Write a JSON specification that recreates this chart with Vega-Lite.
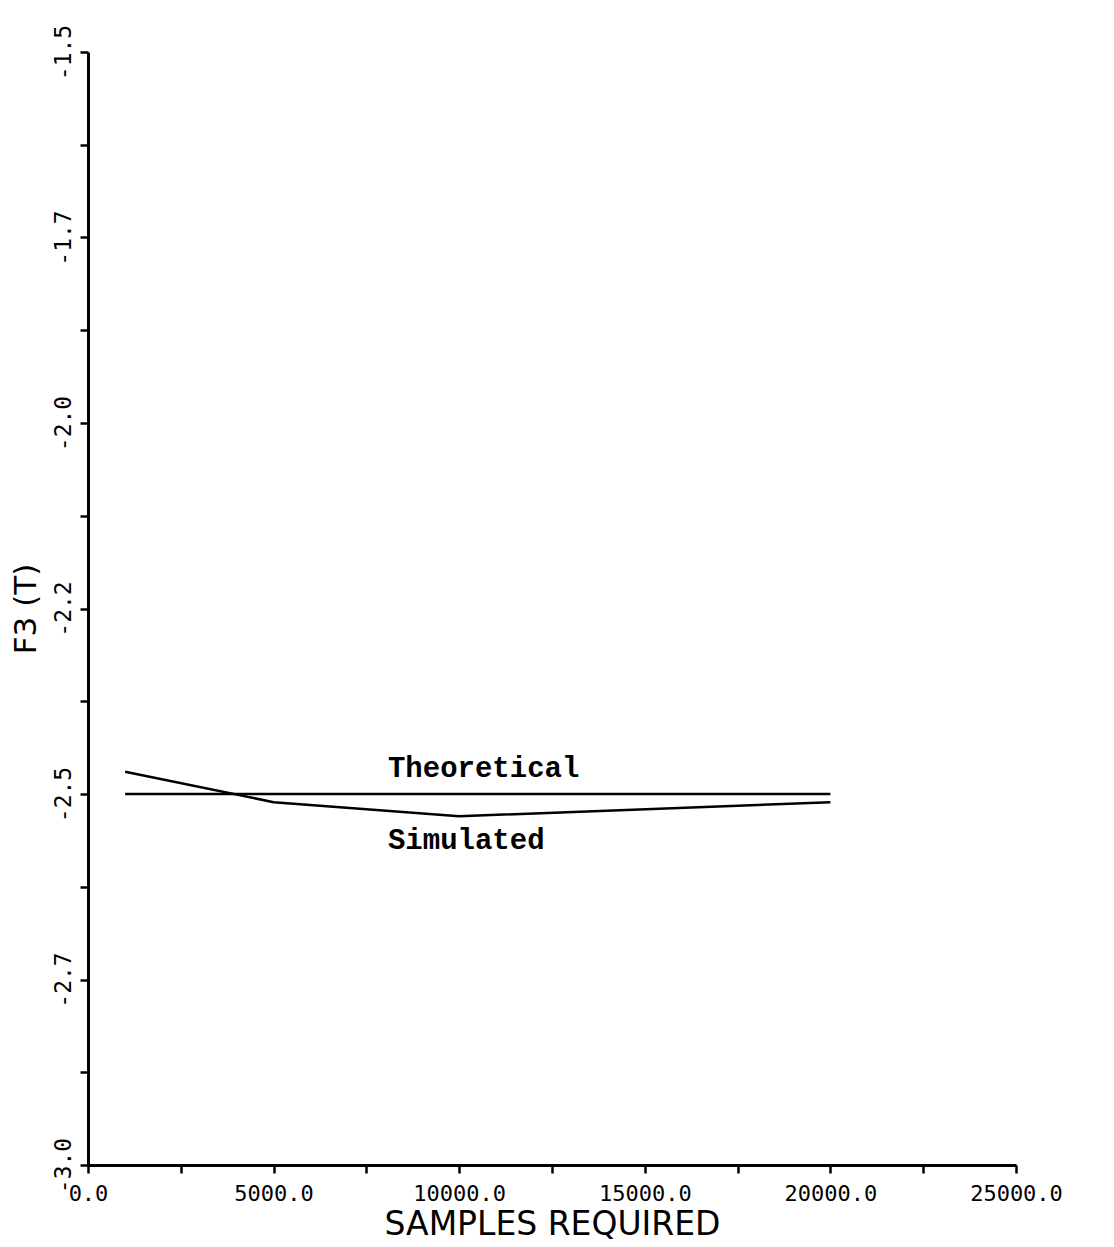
{
  "$schema": "https://vega.github.io/schema/vega-lite/v6.json",
  "autosize": {"type": "none"},
  "padding": {"left": 88, "top": 52, "right": 98, "bottom": 82},
  "width": 928,
  "height": 1113,
  "background": "white",
  "config": {"view": {"stroke": null}},
  "datasets": {
    "lines": [
      {"samples": 1000, "f3": -2.5, "series": "Theoretical"},
      {"samples": 5000, "f3": -2.5, "series": "Theoretical"},
      {"samples": 10000, "f3": -2.5, "series": "Theoretical"},
      {"samples": 20000, "f3": -2.5, "series": "Theoretical"},
      {"samples": 1000, "f3": -2.47, "series": "Simulated"},
      {"samples": 5000, "f3": -2.511, "series": "Simulated"},
      {"samples": 10000, "f3": -2.53, "series": "Simulated"},
      {"samples": 20000, "f3": -2.511, "series": "Simulated"}
    ],
    "labels": [
      {"samples": 8080, "f3": -2.465, "text": "Theoretical"},
      {"samples": 8080, "f3": -2.562, "text": "Simulated"}
    ]
  },
  "layer": [
    {
      "data": {"name": "lines"},
      "mark": {"type": "line", "color": "black", "strokeWidth": 2.5},
      "encoding": {
        "x": {
          "field": "samples", "type": "quantitative",
          "scale": {"domain": [0, 25000], "nice": false, "zero": false},
          "axis": {
            "orient": "bottom",
            "values": [0, 2500, 5000, 7500, 10000, 12500, 15000, 17500, 20000, 22500, 25000],
            "labelExpr": "datum.value % 5000 == 0 ? format(datum.value, '.1f') : ''",
            "grid": false,
            "domainColor": "black", "domainWidth": 3,
            "tickColor": "black", "tickWidth": 2.5, "tickSize": 8,
            "labelFont": "DejaVu Sans Mono", "labelFontSize": 22, "labelColor": "black",
            "labelPadding": 10, "labelFlush": false, "labelOverlap": false,
            "title": "SAMPLES REQUIRED",
            "titleFont": "DejaVu Sans", "titleFontSize": 33, "titleFontWeight": "normal",
            "titleColor": "black", "titlePadding": 4
          }
        },
        "y": {
          "field": "f3", "type": "quantitative",
          "scale": {"domain": [-3.0, -1.5], "nice": false, "zero": false},
          "axis": {
            "orient": "left",
            "values": [-3.0, -2.875, -2.75, -2.625, -2.5, -2.375, -2.25, -2.125, -2.0, -1.875, -1.75, -1.625, -1.5],
            "labelExpr": "abs(datum.value * 4 - round(datum.value * 4)) < 0.001 ? (datum.value < 0 ? '-' : '') + substring(format(abs(datum.value), '.2f'), 0, 3) : ''",
            "grid": false,
            "domainColor": "black", "domainWidth": 3,
            "tickColor": "black", "tickWidth": 2.5, "tickSize": 8,
            "labelFont": "DejaVu Sans Mono", "labelFontSize": 23, "labelColor": "black",
            "labelAngle": -90, "labelAlign": "center", "labelBaseline": "bottom",
            "labelPadding": 5, "labelFlush": false, "labelOverlap": false,
            "title": "F3 (T)",
            "titleFont": "DejaVu Sans", "titleFontSize": 31, "titleFontWeight": "normal",
            "titleColor": "black", "titlePadding": 10
          }
        },
        "detail": {"field": "series", "type": "nominal"}
      }
    },
    {
      "data": {"name": "labels"},
      "mark": {"type": "text", "align": "left", "baseline": "middle", "font": "Liberation Mono", "fontWeight": "bold", "fontSize": 29, "color": "black"},
      "encoding": {
        "x": {"field": "samples", "type": "quantitative"},
        "y": {"field": "f3", "type": "quantitative"},
        "text": {"field": "text", "type": "nominal"}
      }
    }
  ]
}
